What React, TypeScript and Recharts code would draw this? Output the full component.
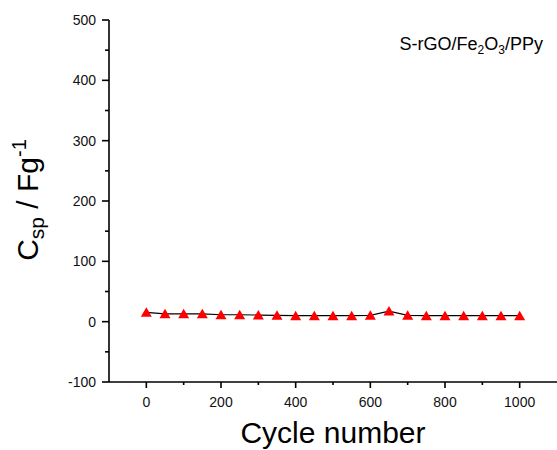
import { Label, Line, LineChart, XAxis, YAxis } from "recharts";

const cycles = [
  0, 50, 100, 150, 200, 250, 300, 350, 400, 450, 500, 550, 600, 650, 700, 750,
  800, 850, 900, 950, 1000,
];
const csp = [
  15.5, 13, 13, 13, 11.5, 11.5, 11, 10.5, 10, 10, 10, 10, 10.5, 17.5, 10.5, 10,
  10, 10, 10, 10, 10,
];
const xTicks = [0, 100, 200, 300, 400, 500, 600, 700, 800, 900, 1000];
const yTicks = [-100, -50, 0, 50, 100, 150, 200, 250, 300, 350, 400, 450, 500];
const sampleName = ["S-rGO/Fe", "2", "O", "3", "/PPy"];

const data = cycles.map((c, i) => ({ cycle: c, csp: csp[i] }));

const FONT = "'Liberation Sans', Arial, sans-serif";
const AXIS = { stroke: "#000", strokeWidth: 1.6 };

function XTick(props: any) {
  const { x, y, payload } = props;
  const major = payload.value % 200 === 0;
  return (
    <g>
      <line x1={x} x2={x} y1={y} y2={y + (major ? 6 : 3)} stroke="#000" strokeWidth={1.6} />
      {major && (
        <text x={x} y={y + 25} textAnchor="middle" fontSize={14} fontFamily={FONT} fill="#111">
          {payload.value}
        </text>
      )}
    </g>
  );
}

function YTick(props: any) {
  const { x, y, payload } = props;
  const major = payload.value % 100 === 0;
  return (
    <g>
      <line x1={x} x2={x - (major ? 7 : 4)} y1={y} y2={y} stroke="#000" strokeWidth={1.6} />
      {major && (
        <text x={x - 13} y={y + 5} textAnchor="end" fontSize={14} fontFamily={FONT} fill="#111">
          {payload.value}
        </text>
      )}
    </g>
  );
}

function Triangle(props: any) {
  const { cx, cy, index } = props;
  if (cx == null || cy == null) return <g key={index} />;
  return (
    <polygon
      key={index}
      points={`${cx},${cy - 5} ${cx - 5.5},${cy + 4.5} ${cx + 5.5},${cy + 4.5}`}
      fill="#ff0000"
    />
  );
}

export default function App() {
  return (
    <div style={{ position: "absolute", left: 0, top: 0, background: "#fff" }}>
      <LineChart
        width={557}
        height={450}
        data={data}
        margin={{ top: 20, right: 0, bottom: 0, left: 0 }}
      >
        <XAxis
          dataKey="cycle"
          type="number"
          domain={[-100, 1100]}
          ticks={xTicks}
          height={68}
          tickSize={0}
          tickMargin={0}
          tick={<XTick />}
          stroke="#000"
          axisLine={AXIS}
          interval={0}
        >
          <Label
            content={() => (
              <text x={333} y={443} textAnchor="middle" fontSize={30} fontFamily={FONT} fill="#000">
                Cycle number
              </text>
            )}
          />
        </XAxis>
        <XAxis
          xAxisId="top"
          orientation="top"
          dataKey="cycle"
          type="number"
          domain={[-100, 1100]}
          height={0}
          tick={false}
          tickLine={false}
          stroke="#000"
          axisLine={AXIS}
        />
        <YAxis
          type="number"
          domain={[-100, 500]}
          ticks={yTicks}
          width={109}
          tickSize={0}
          tickMargin={0}
          tick={<YTick />}
          stroke="#000"
          axisLine={AXIS}
          interval={0}
        >
          <Label
            content={() => (
              <text
                x={38}
                y={200}
                transform="rotate(-90, 38, 200)"
                textAnchor="middle"
                fontSize={30}
                fontFamily={FONT}
                fill="#000"
              >
                C
                <tspan fontSize={21} dy={6}>sp</tspan>
                <tspan dy={-6}> / Fg</tspan>
                <tspan fontSize={20} dy={-12}>-1</tspan>
              </text>
            )}
          />
        </YAxis>
        <Line
          dataKey="csp"
          stroke="#000"
          strokeWidth={1.2}
          dot={<Triangle />}
          activeDot={false}
          isAnimationActive={false}
        />
        <text x={543} y={50} textAnchor="end" fontSize={18} fontFamily={FONT} fill="#000">
          {sampleName[0]}
          <tspan fontSize={12} dy={4}>{sampleName[1]}</tspan>
          <tspan dy={-4}>{sampleName[2]}</tspan>
          <tspan fontSize={12} dy={4}>{sampleName[3]}</tspan>
          <tspan dy={-4}>{sampleName[4]}</tspan>
        </text>
      </LineChart>
    </div>
  );
}
